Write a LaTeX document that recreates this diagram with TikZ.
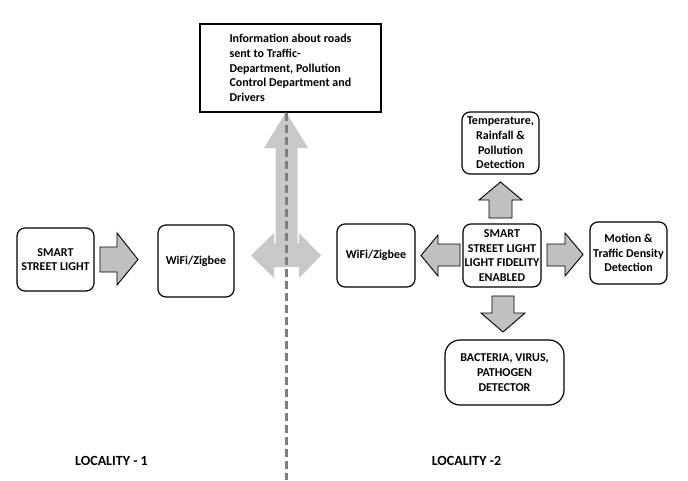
\documentclass[tikz,border=0pt]{standalone}
\usepackage{fontspec}
\setmainfont{Carlito}
\newcommand\txtfont{\fontsize{12}{14.6}\selectfont\bfseries}
\newcommand\locfont{\fontsize{14}{16}\selectfont\bfseries}
\definecolor{arrgray}{RGB}{192,192,192}
\definecolor{dblgray}{RGB}{200,200,200}
\definecolor{dashgray}{RGB}{125,125,125}
\begin{document}
\begin{tikzpicture}[x=1pt,y=-1pt,
  box/.style={draw, line width=1.2pt, rounded corners=8pt, align=center, inner sep=1pt, font=\txtfont},
  blockarrow/.style={draw, line width=0.9pt, fill=arrgray, line join=miter},
  dblarrow/.style={fill=dblgray},
  divider/.style={draw=dashgray, line width=3pt, dash pattern=on 8pt off 4pt},
  loclabel/.style={font=\locfont, inner sep=0pt}]
\useasboundingbox (0,0) rectangle (688,480);
\fill[white] (0,0) rectangle (688,480);

% top information box
\node[draw, line width=1.2pt, minimum width=181pt, minimum height=88pt, align=left, inner sep=0pt, font=\txtfont] (info) at (290.5,68)
  {Information about roads\\sent to Traffic-\\Department, Pollution\\Control Department and\\Drivers};

% double (T-shaped) arrow
\path[dblarrow] (251,255.5) -- (274,233) -- (274,243) -- (275.5,243) -- (275.5,148) -- (264,148) -- (286,112)
  -- (308,148) -- (297.5,148) -- (297.5,243) -- (299,243) -- (299,233) -- (321,255.5) -- (299,278) -- (299,267)
  -- (274,267) -- (274,278) -- cycle;

% divider
\coordinate (divtop) at (info.south -| 286,0);
\coordinate (divbot) at (286,480);
\draw[divider] (divtop) -- (divbot);

% locality 1
\node[box, minimum width=77pt, minimum height=63pt] (sl1) at (55.5,259.5) {SMART\\STREET LIGHT};
\node[box, minimum width=76pt, minimum height=72pt] (wifi1) at (196,261) {WiFi/Zigbee};
\draw[blockarrow] (100,247) -- (117,247) -- (117,233) -- (138,259.5) -- (117,285) -- (117,272) -- (100,272) -- cycle;

% locality 2
\node[box, minimum width=78pt, minimum height=63pt] (wifi2) at (376,255.5) {WiFi/Zigbee};
\node[box, minimum width=78pt, minimum height=63pt, inner sep=0pt] (ctr) at (502,255.5) {SMART\\STREET LIGHT\\LIGHT FIDELITY\\ENABLED};
\node[box, minimum width=77pt, minimum height=62pt] (temp) at (500.5,143) {Temperature,\\Rainfall \&\\Pollution\\Detection};
\node[box, minimum width=77pt, minimum height=62pt] (motion) at (628.5,253) {Motion \&\\Traffic Density\\Detection};
\node[box, rounded corners=15pt, minimum width=119pt, minimum height=65pt] (bact) at (504.5,372.5) {BACTERIA, VIRUS,\\PATHOGEN\\DETECTOR};

\draw[blockarrow] (489,218) -- (489,200) -- (479,200) -- (500.5,182) -- (522,200) -- (512,200) -- (512,218) -- cycle;
\draw[blockarrow] (460,244) -- (438,244) -- (438,235) -- (421,255.5) -- (438,276) -- (438,266) -- (460,266) -- cycle;
\draw[blockarrow] (547,244) -- (565,244) -- (565,233) -- (583,254.5) -- (565,276) -- (565,266) -- (547,266) -- cycle;
\draw[blockarrow] (492,296) -- (514,296) -- (514,313) -- (525,313) -- (503,332) -- (481,313) -- (492,313) -- cycle;

% labels
\node[loclabel] (loc1) at (111.5,461) {LOCALITY - 1};
\node[loclabel] (loc2) at (466.5,461) {LOCALITY -2};
\end{tikzpicture}
\end{document}
